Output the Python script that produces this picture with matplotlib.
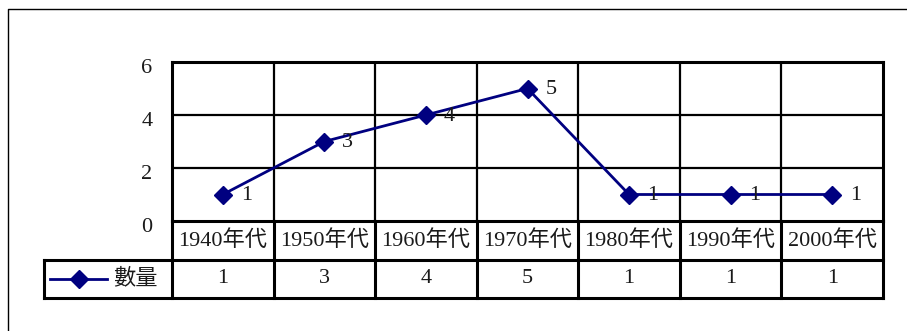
import matplotlib
matplotlib.use("Agg")
from matplotlib import pyplot as plt
from matplotlib import transforms
from matplotlib.lines import Line2D

categories = ['1940年代', '1950年代', '1960年代', '1970年代', '1980年代', '1990年代', '2000年代']
counts = [1, 3, 4, 5, 1, 1, 1]
series_name = '數量'
yticks = [0, 2, 4, 6]

plt.rcParams['font.family'] = ['Liberation Serif', 'Noto Sans CJK TC']
navy = '#000080'
txt = '#1a1a1a'
W, H = 907, 331

fig = plt.figure(figsize=(W / 100, H / 100), dpi=100)

# plot area in pixel terms
left, right, top, bottom = 172, 883, 62, 221
ax = fig.add_axes([left / W, 1 - bottom / H, (right - left) / W, (bottom - top) / H])
n = len(categories)
x = list(range(n))
ax.plot(x, counts, color=navy, lw=2, marker='D', ms=9, mfc=navy, mec=navy, zorder=5)
for xi, v in zip(x, counts):
    ax.annotate(str(v), (xi, v), xytext=(13, -1), textcoords='offset points',
                ha='left', va='center', fontsize=16, color=txt, zorder=6)

ax.set_xlim(-0.5, n - 0.5)
ax.set_ylim(0, 6)
ax.set_yticks(yticks)
ax.set_yticklabels([str(t) for t in yticks], fontsize=16, color=txt)
ax.tick_params(axis='y', length=0, pad=14)
shift = transforms.ScaledTranslation(0, -4 / 100, fig.dpi_scale_trans)
for lab in ax.get_yticklabels():
    lab.set_transform(lab.get_transform() + shift)
ax.set_xticks([])
for xv in [i + 0.5 for i in range(n - 1)]:
    ax.axvline(xv, color='black', lw=1.6)
for yv in yticks[1:-1]:
    ax.axhline(yv, color='black', lw=1.6)
for s in ax.spines.values():
    s.set_linewidth(2.2)
    s.set_color('black')

# data table below the plot: x in data units, y in axes fraction
tr = transforms.blended_transform_factory(ax.transData, ax.transAxes)
row_h = 38.5 / (bottom - top)
px_per_unit = (right - left) / n
legend_left = -0.5 - (left - 44) / px_per_unit
y_cat = -row_h
y_val = -2 * row_h
kw = dict(transform=tr, color='black', lw=2.2, clip_on=False, solid_capstyle='projecting')
ax.add_line(Line2D([legend_left, n - 0.5], [y_cat, y_cat], **kw))
ax.add_line(Line2D([legend_left, n - 0.5], [y_val, y_val], **kw))
ax.add_line(Line2D([legend_left, legend_left], [y_cat, y_val], **kw))
for i in range(n + 1):
    ax.add_line(Line2D([i - 0.5, i - 0.5], [0, y_val], **kw))
for i, (c, v) in enumerate(zip(categories, counts)):
    ax.text(i, -row_h / 2, c, transform=tr, ha='center', va='center', fontsize=16, color=txt)
    ax.text(i, -1.5 * row_h, str(v), transform=tr, ha='center', va='center', fontsize=16, color=txt)

# legend key inside table
leg_y = -1.5 * row_h
ax.add_line(Line2D([legend_left + 0.06, legend_left + 0.62], [leg_y, leg_y], transform=tr,
                   color=navy, lw=2, clip_on=False))
ax.add_line(Line2D([legend_left + 0.34], [leg_y], transform=tr, marker='D', ms=9,
                   color=navy, clip_on=False))
ax.text(legend_left + 0.68, leg_y, series_name, transform=tr, ha='left', va='center',
        fontsize=16, color=txt)

# outer chart border (top and left visible)
fig.add_artist(Line2D([8 / W, 8 / W, 1], [0, 1 - 9 / H, 1 - 9 / H], color='black', lw=1.0,
                      transform=fig.transFigure))

fig.savefig('out.png', dpi=100)
